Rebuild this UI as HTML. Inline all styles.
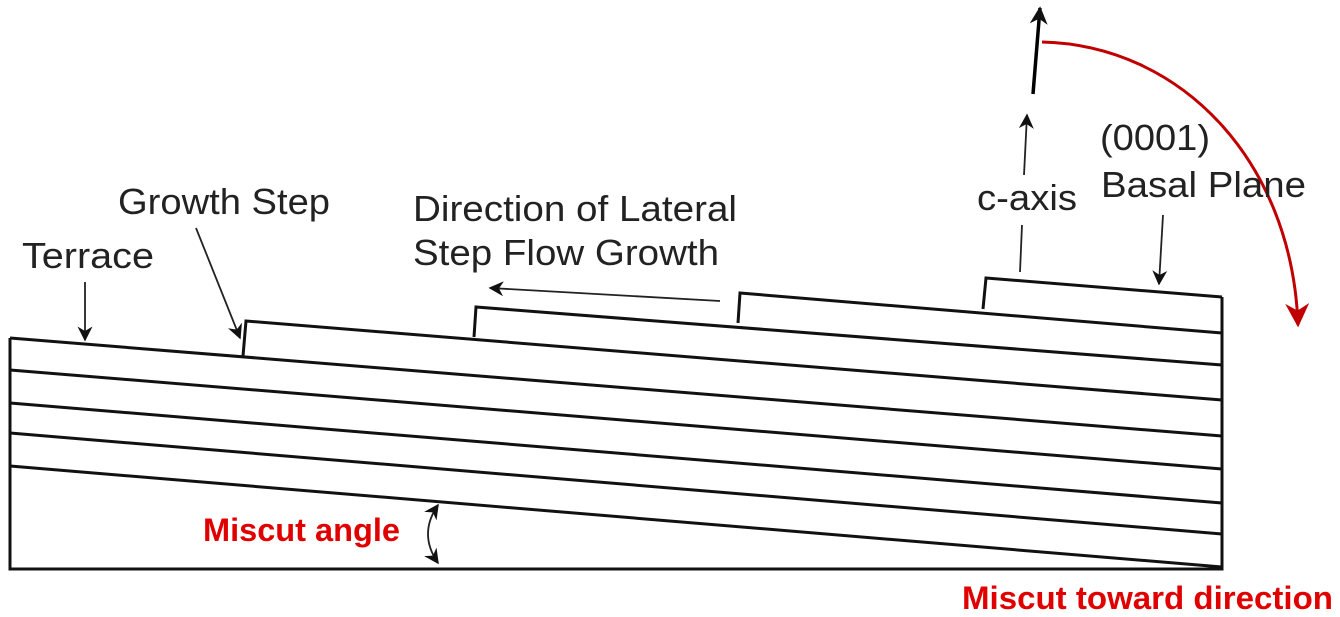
<!DOCTYPE html>
<html><head><style>
html,body{margin:0;padding:0;background:#fff;}
svg{display:block;}
text{font-family:"Liberation Sans",Arial,sans-serif;}
</style></head><body>
<svg width="1340" height="617" viewBox="0 0 1340 617" xmlns="http://www.w3.org/2000/svg">
<defs>
<marker id="ah" viewBox="0 0 10 10" refX="9" refY="5" markerWidth="15" markerHeight="15" orient="auto-start-reverse" markerUnits="userSpaceOnUse">
<path d="M0,0 L10,5 L0,10 L3,5 z" fill="#111"/></marker>
<marker id="ahb" viewBox="0 0 10 10" refX="9" refY="5" markerWidth="18" markerHeight="18" orient="auto" markerUnits="userSpaceOnUse">
<path d="M0,0 L10,5 L0,10 L3,5 z" fill="#111"/></marker>
<marker id="ahr" viewBox="0 0 10 10" refX="9" refY="5" markerWidth="24" markerHeight="24" orient="auto" markerUnits="userSpaceOnUse">
<path d="M0,0 L10,5 L0,10 L3,5 z" fill="#c00000"/></marker>
</defs>
<g stroke="#111" stroke-width="3" fill="none">
<polyline points="10,338 10,569 1222,569 1222,297"/>
<line x1="10" y1="338" x2="1222" y2="436"/>
<line x1="10" y1="370" x2="1222" y2="469"/>
<line x1="10" y1="403" x2="1222" y2="503"/>
<line x1="10" y1="433" x2="1222" y2="534"/>
<line x1="10" y1="466" x2="1222" y2="567"/>
<polyline points="243,356 246,321 1222,400"/>
<polyline points="474,337 476,307 1222,365"/>
<polyline points="738,323 740,293 1222,333"/>
<polyline points="983,309 986,278 1222,297"/>
</g>
<g stroke="#222" stroke-width="1.8" fill="none">
<line x1="85" y1="282" x2="85" y2="340" marker-end="url(#ah)"/>
<line x1="196" y1="228" x2="240" y2="338" marker-end="url(#ah)"/>
<line x1="720" y1="301" x2="490" y2="288" marker-end="url(#ah)"/>
<line x1="1020" y1="272" x2="1022" y2="225"/>
<line x1="1024" y1="175" x2="1027" y2="115" marker-end="url(#ah)"/>
<line x1="1163" y1="215" x2="1159" y2="284" marker-end="url(#ah)"/>
<path d="M438,505 Q418,534 438,563" marker-start="url(#ah)" marker-end="url(#ah)"/>
</g>
<line x1="1033" y1="94" x2="1040" y2="8" stroke="#000" stroke-width="3.5" marker-end="url(#ahb)"/>
<path d="M1042,42 C1180,45 1292,160 1298,325" stroke="#c00000" stroke-width="3" fill="none" marker-end="url(#ahr)"/>
<g fill="#222" font-size="36">
<text x="22" y="268" textLength="132" lengthAdjust="spacingAndGlyphs">Terrace</text>
<text x="118" y="214" textLength="212" lengthAdjust="spacingAndGlyphs">Growth Step</text>
<text x="413" y="221" textLength="324" lengthAdjust="spacingAndGlyphs">Direction of Lateral</text>
<text x="413" y="265" textLength="306" lengthAdjust="spacingAndGlyphs">Step Flow Growth</text>
<text x="977" y="210" textLength="100" lengthAdjust="spacingAndGlyphs">c-axis</text>
<text x="1100" y="150" textLength="110" lengthAdjust="spacingAndGlyphs">(0001)</text>
<text x="1101" y="197" textLength="205" lengthAdjust="spacingAndGlyphs">Basal Plane</text>
</g>
<g fill="#e00000" font-size="32" font-weight="bold">
<text x="203" y="541" textLength="197" lengthAdjust="spacingAndGlyphs">Miscut angle</text>
<text x="962" y="609" textLength="371" lengthAdjust="spacingAndGlyphs">Miscut toward direction</text>
</g>
</svg>
</body></html>
